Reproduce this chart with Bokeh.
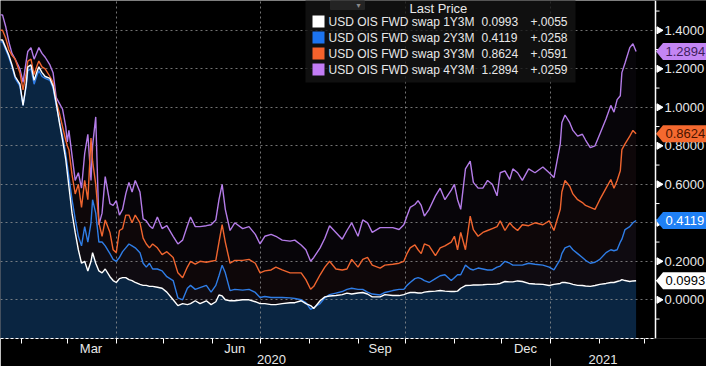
import math
import pandas as pd
from bokeh.plotting import figure
from bokeh.models import (Range1d, FixedTicker, DatetimeTickFormatter, DatetimeAxis,
                          Label, BoxAnnotation, Span, ColumnDataSource)
from bokeh.core.properties import value
from bokeh.embed import file_html
from bokeh.resources import INLINE

# ---------------- data ----------------
dates = [
    "2020-01-15", "2020-01-18", "2020-01-20", "2020-01-22", "2020-01-24", "2020-01-26", "2020-01-28",
    "2020-01-31", "2020-02-02", "2020-02-04", "2020-02-05", "2020-02-07", "2020-02-09", "2020-02-11",
    "2020-02-12", "2020-02-14", "2020-02-16", "2020-02-19", "2020-02-21", "2020-02-23", "2020-02-25",
    "2020-02-27", "2020-02-29", "2020-03-01", "2020-03-02", "2020-03-04", "2020-03-06", "2020-03-08",
    "2020-03-10", "2020-03-12", "2020-03-14", "2020-03-16", "2020-03-17", "2020-03-19", "2020-03-21",
    "2020-03-23", "2020-03-25", "2020-03-28", "2020-03-30", "2020-04-01", "2020-04-03", "2020-04-05",
    "2020-04-07", "2020-04-09", "2020-04-11", "2020-04-13", "2020-04-16", "2020-04-18", "2020-04-20",
    "2020-04-22", "2020-04-24", "2020-04-27", "2020-04-30", "2020-05-03", "2020-05-07", "2020-05-10",
    "2020-05-13", "2020-05-16", "2020-05-18", "2020-05-21", "2020-05-24", "2020-05-28", "2020-05-31",
    "2020-06-03", "2020-06-05", "2020-06-07", "2020-06-09", "2020-06-12", "2020-06-15", "2020-06-20",
    "2020-06-24", "2020-06-28", "2020-07-01", "2020-07-04", "2020-07-08", "2020-07-11", "2020-07-15",
    "2020-07-20", "2020-07-23", "2020-07-27", "2020-07-30", "2020-08-02", "2020-08-04", "2020-08-08",
    "2020-08-11", "2020-08-14", "2020-08-18", "2020-08-22", "2020-08-25", "2020-08-28", "2020-09-01",
    "2020-09-04", "2020-09-07", "2020-09-10", "2020-09-15", "2020-09-18", "2020-09-23", "2020-09-27",
    "2020-09-30", "2020-10-02", "2020-10-04", "2020-10-07", "2020-10-09", "2020-10-11", "2020-10-13",
    "2020-10-16", "2020-10-20", "2020-10-23", "2020-10-26", "2020-10-30", "2020-11-01", "2020-11-03",
    "2020-11-05", "2020-11-08", "2020-11-11", "2020-11-13", "2020-11-16", "2020-11-19", "2020-11-22",
    "2020-11-25", "2020-11-28", "2020-11-30", "2020-12-03", "2020-12-06", "2020-12-08", "2020-12-11",
    "2020-12-14", "2020-12-18", "2020-12-22", "2020-12-27", "2020-12-31", "2021-01-03", "2021-01-07",
    "2021-01-08", "2021-01-10", "2021-01-13", "2021-01-15", "2021-01-18", "2021-01-21", "2021-01-23",
    "2021-01-26", "2021-01-29", "2021-02-01", "2021-02-05", "2021-02-08", "2021-02-10", "2021-02-12",
    "2021-02-14", "2021-02-15", "2021-02-17", "2021-02-20", "2021-02-22", "2021-02-24",
]

swap_1y3m = [
    1.34, 1.35, 1.35, 1.31, 1.27, 1.22, 1.16, 1.12, 1.01, 1.12, 1.21, 1.22, 1.14, 1.19, 1.21, 1.18,
    1.16, 1.15, 1.11, 1.02, 0.92, 0.83, 0.73, 0.66, 0.59, 0.45, 0.35, 0.26, 0.19, 0.20, 0.15, 0.20,
    0.245, 0.19, 0.15, 0.14, 0.16, 0.12, 0.10, 0.09, 0.11, 0.115, 0.115, 0.105, 0.10, 0.09, 0.08,
    0.075, 0.075, 0.07, 0.07, 0.065, 0.06, 0.04, 0.0, -0.03, -0.02, -0.025, -0.02, -0.005, -0.02,
    -0.005, -0.025, -0.01, 0.025, 0.02, 0.0, -0.005, -0.005, 0.0, 0.0, -0.01, -0.02, -0.02, -0.025,
    -0.025, -0.02, -0.015, -0.015, -0.005, -0.02, -0.03, -0.045, -0.005, 0.015, 0.02, 0.022, 0.027,
    0.035, 0.03, 0.035, 0.038, 0.03, 0.015, 0.015, 0.027, 0.022, 0.022, 0.027, 0.033, 0.038, 0.038,
    0.035, 0.035, 0.04, 0.043, 0.045, 0.048, 0.045, 0.043, 0.043, 0.045, 0.06, 0.074, 0.075, 0.077,
    0.077, 0.078, 0.08, 0.08, 0.082, 0.085, 0.095, 0.093, 0.093, 0.098, 0.095, 0.085, 0.082, 0.08,
    0.074, 0.08, 0.085, 0.09, 0.09, 0.085, 0.08, 0.075, 0.074, 0.072, 0.07, 0.074, 0.08, 0.085, 0.09,
    0.09, 0.095, 0.10, 0.105, 0.10, 0.095, 0.098, 0.0993,
]

swap_2y3m = [
    1.33, 1.34, 1.34, 1.30, 1.26, 1.21, 1.15, 1.11, 1.01, 1.11, 1.19, 1.20, 1.12, 1.17, 1.19, 1.16,
    1.15, 1.14, 1.10, 1.01, 0.93, 0.85, 0.76, 0.70, 0.64, 0.52, 0.42, 0.33, 0.28, 0.38, 0.30, 0.40,
    0.52, 0.45, 0.30, 0.30, 0.28, 0.24, 0.21, 0.20, 0.22, 0.25, 0.27, 0.29, 0.28, 0.27, 0.245, 0.19,
    0.17, 0.19, 0.16, 0.16, 0.15, 0.12, 0.10, 0.01, 0.0, 0.06, 0.075, 0.054, 0.063, 0.075, 0.04,
    0.075, 0.125, 0.18, 0.14, 0.048, 0.054, 0.05, 0.054, 0.038, 0.012, 0.017, 0.012, 0.012, 0.012,
    0.01, 0.007, 0.0, -0.015, -0.05, -0.04, -0.02, 0.01, 0.027, 0.035, 0.043, 0.054, 0.06, 0.054,
    0.054, 0.04, 0.03, 0.025, 0.038, 0.048, 0.054, 0.054, 0.075, 0.09, 0.11, 0.115, 0.11, 0.10, 0.09,
    0.11, 0.125, 0.13, 0.10, 0.115, 0.13, 0.13, 0.18, 0.16, 0.155, 0.165, 0.16, 0.155, 0.155, 0.17,
    0.175, 0.20, 0.19, 0.18, 0.18, 0.18, 0.19, 0.185, 0.18, 0.17, 0.155, 0.21, 0.24, 0.27, 0.28, 0.26,
    0.24, 0.22, 0.205, 0.19, 0.195, 0.21, 0.245, 0.26, 0.255, 0.26, 0.30, 0.315, 0.365, 0.38, 0.40,
    0.4119,
]

swap_3y3m = [
    1.39, 1.40, 1.40, 1.36, 1.30, 1.27, 1.25, 1.18, 1.09, 1.18, 1.24, 1.25, 1.17, 1.22, 1.24, 1.21,
    1.20, 1.16, 1.13, 1.03, 0.97, 0.90, 0.83, 0.80, 0.78, 0.65, 0.55, 0.60, 0.48, 0.62, 0.52, 0.84,
    0.72, 0.60, 0.40, 0.33, 0.415, 0.35, 0.26, 0.245, 0.36, 0.37, 0.44, 0.44, 0.40, 0.44, 0.40, 0.32,
    0.29, 0.27, 0.29, 0.27, 0.235, 0.25, 0.22, 0.14, 0.115, 0.17, 0.20, 0.185, 0.20, 0.195, 0.20,
    0.205, 0.30, 0.39, 0.30, 0.19, 0.205, 0.205, 0.21, 0.19, 0.14, 0.15, 0.155, 0.17, 0.155, 0.14,
    0.14, 0.14, 0.105, 0.055, 0.07, 0.13, 0.17, 0.20, 0.16, 0.155, 0.16, 0.21, 0.17, 0.21, 0.22, 0.18,
    0.165, 0.18, 0.185, 0.19, 0.20, 0.24, 0.27, 0.285, 0.26, 0.24, 0.29, 0.28, 0.23, 0.27, 0.28, 0.30,
    0.33, 0.26, 0.35, 0.26, 0.435, 0.365, 0.33, 0.35, 0.36, 0.37, 0.38, 0.41, 0.36, 0.40, 0.38, 0.36,
    0.39, 0.385, 0.40, 0.39, 0.41, 0.36, 0.47, 0.56, 0.62, 0.59, 0.55, 0.52, 0.505, 0.49, 0.48, 0.47,
    0.52, 0.58, 0.625, 0.58, 0.62, 0.67, 0.78, 0.81, 0.85, 0.88, 0.8624,
]

swap_4y3m = [
    1.45, 1.48, 1.48, 1.42, 1.34, 1.28, 1.25, 1.20, 1.13, 1.24, 1.29, 1.31, 1.25, 1.29, 1.31, 1.28,
    1.26, 1.22, 1.18, 1.05, 1.02, 0.99, 0.90, 0.82, 0.88, 0.75, 0.62, 0.66, 0.58, 0.76, 0.86, 0.62,
    0.80, 0.95, 0.39, 0.45, 0.64, 0.50, 0.49, 0.515, 0.44, 0.47, 0.55, 0.61, 0.56, 0.62, 0.56, 0.42,
    0.41, 0.385, 0.37, 0.43, 0.37, 0.385, 0.33, 0.29, 0.31, 0.385, 0.43, 0.38, 0.38, 0.385, 0.39,
    0.415, 0.52, 0.60, 0.47, 0.36, 0.40, 0.37, 0.38, 0.34, 0.29, 0.33, 0.34, 0.33, 0.31, 0.305, 0.31,
    0.285, 0.26, 0.20, 0.22, 0.27, 0.32, 0.385, 0.35, 0.315, 0.36, 0.40, 0.33, 0.415, 0.40, 0.35,
    0.375, 0.375, 0.375, 0.365, 0.39, 0.435, 0.48, 0.495, 0.515, 0.49, 0.435, 0.47, 0.54, 0.58, 0.52,
    0.57, 0.60, 0.52, 0.47, 0.68, 0.72, 0.61, 0.58, 0.58, 0.62, 0.60, 0.54, 0.66, 0.67, 0.625, 0.68,
    0.66, 0.62, 0.68, 0.66, 0.69, 0.66, 0.635, 0.81, 0.92, 0.96, 0.92, 0.88, 0.85, 0.86, 0.83, 0.79,
    0.80, 0.86, 0.94, 1.01, 0.975, 1.04, 1.06, 1.18, 1.23, 1.31, 1.33, 1.2894,
]

series_names = ["USD OIS FWD swap 1Y3M", "USD OIS FWD swap 2Y3M",
                "USD OIS FWD swap 3Y3M", "USD OIS FWD swap 4Y3M"]
last_prices = ["0.0993", "0.4119", "0.8624", "1.2894"]
net_changes = ["+.0055", "+.0258", "+.0591", "+.0259"]

y_ticks = [0.0, 0.2, 0.4, 0.6, 0.8, 1.0, 1.2, 1.4, 1.6]
y_minor_ticks = [-0.1, 0.1, 0.3, 0.5, 0.7, 0.9, 1.1, 1.3, 1.5]
month_label_dates = ["2020-03-16", "2020-06-15", "2020-09-15", "2020-12-16"]
month_start_dates = ["2020-02-01", "2020-03-01", "2020-04-01", "2020-05-01", "2020-06-01",
                     "2020-07-01", "2020-08-01", "2020-09-01", "2020-10-01", "2020-11-01",
                     "2020-12-01", "2021-01-01", "2021-02-01", "2021-03-01"]
quarter_grid_dates = ["2020-04-01", "2020-07-01", "2020-10-01", "2021-01-01"]
year_break_date = "2021-01-01"

# ---------------- layout helpers (page pixel -> data) ----------------
def ms(s):
    return (pd.Timestamp(s) - pd.Timestamp("1970-01-01")).total_seconds() * 1000.0


PX_PER_DAY = 1.58
ORIGIN_MS = ms("2020-01-01")
ORIGIN_PX = -20.0
Y0_PX = 307.3
PX_PER_UNIT = 192.5
AXIS_PX = 663          # page x of the value axis line
FRAME_BOTTOM_PX = 346  # page y of the frame bottom


def xd(px):
    return ORIGIN_MS + (px - ORIGIN_PX) / PX_PER_DAY * 86400000.0


def yd(py):
    return (Y0_PX - py) / PX_PER_UNIT


FONT = "Liberation Sans"
LABEL_GREY = "#e8e8e8"
WHITE = "#ffffff"
BLUE = "#2f7de6"
ORANGE = "#f0652f"
PURPLE = "#b47ce8"
legend_colors = ["#ffffff", "#1c74f0", "#f4622c", "#c27cf5"]
tag_fill = ["#ffffff", "#1f80f5", "#f5692f", "#c385f4"]
tag_text = ["#000000", "#ffffff", "#4a1400", "#3e1d5c"]

p = figure(width=706, height=366, x_axis_type="datetime", y_axis_location=None,
           x_range=Range1d(xd(8), xd(714)), y_range=Range1d(yd(FRAME_BOTTOM_PX), yd(8)),
           output_backend="svg", toolbar_location=None,
           min_border_left=0, min_border_top=0, min_border_right=0, min_border_bottom=28,
           background_fill_color="black", border_fill_color="black", outline_line_color=None)

base = p.y_range.start - 0.05
src = ColumnDataSource(dict(
    date=pd.to_datetime(dates),
    s1=swap_1y3m, s2=swap_2y3m, s3=swap_3y3m, s4=swap_4y3m,
    base=[base] * len(dates),
))

# faint area fills under the upper curves, navy area under 1Y3M
for col, c, a in [("s4", PURPLE, 0.04), ("s3", ORANGE, 0.03), ("s2", BLUE, 0.04)]:
    p.varea(x="date", y1="base", y2=col, source=src, fill_color=c, fill_alpha=a, level="image")
p.varea(x="date", y1="base", y2="s1", source=src, fill_color="#0a2541", fill_alpha=1.0,
        level="image")

# grids
p.xgrid[0].ticker = FixedTicker(ticks=[ms(d) for d in quarter_grid_dates])
p.ygrid[0].ticker = FixedTicker(ticks=list(y_ticks))
for g in (p.xgrid[0], p.ygrid[0]):
    g.grid_line_color = "#9a9a9a"
    g.grid_line_dash = "2 3"
    g.grid_line_alpha = 0.75
    g.grid_line_width = 1

# value-axis area on the right side of the frame (covers the grid there)
p.quad(left=xd(AXIS_PX), right=xd(730), bottom=base, top=p.y_range.end + 0.1,
       fill_color="black", line_alpha=0)

# lines (4Y3M at the back, 1Y3M on top)
for col, c in [("s4", PURPLE), ("s3", ORANGE), ("s2", BLUE), ("s1", WHITE)]:
    p.line(x="date", y=col, source=src, line_color=c, line_width=1.4)

# ---- right value axis: line, minor ticks, triangle major ticks, labels ----
p.add_layout(Span(location=xd(AXIS_PX), dimension="height", line_color="white", line_width=1.5))
vis_major = [t for t in y_ticks if p.y_range.start <= t <= p.y_range.end]
vis_minor = [t for t in y_minor_ticks if p.y_range.start <= t <= p.y_range.end]
p.segment(x0=[xd(AXIS_PX)] * len(vis_minor), x1=[xd(AXIS_PX + 4)] * len(vis_minor),
          y0=vis_minor, y1=vis_minor, line_color="white", line_width=1)
p.scatter(x=[xd(AXIS_PX + 3.5)] * len(vis_major), y=vis_major, marker="triangle", size=7,
          angle=-math.pi / 2, fill_color="white", line_color="white")
p.text(x=[xd(AXIS_PX + 9)] * len(vis_major), y=vis_major,
       text=["%.4f" % t for t in vis_major], text_color=LABEL_GREY,
       text_font=value(FONT), text_font_size="13px", text_baseline="middle", text_align="left")

# last-price tags
th = 8.5 / PX_PER_UNIT
for series, txt, fc, tc in zip([swap_1y3m, swap_2y3m, swap_3y3m, swap_4y3m],
                               last_prices, tag_fill, tag_text):
    c = series[-1]
    p.patch(x=[xd(AXIS_PX + 0.5), xd(AXIS_PX + 7.5), xd(730), xd(730), xd(AXIS_PX + 7.5)],
            y=[c, c + th, c + th, c - th, c - th], fill_color=fc, line_alpha=0)
    p.text(x=[xd(AXIS_PX + 10)], y=[c], text=[txt], text_color=tc, text_font=value(FONT),
           text_font_size="13px", text_baseline="middle", text_align="left")

# ---- bottom axes: months, then years ----
xa = p.xaxis[0]
xa.bounds = (xd(8), xd(AXIS_PX))
xa.ticker = FixedTicker(ticks=[ms(d) for d in month_label_dates],
                        minor_ticks=[ms(d) for d in month_start_dates])
xa.formatter = DatetimeTickFormatter(months="%b", days="%b", years="%b", hours="%b")
xa.major_tick_out = 0
xa.major_tick_in = 0
xa.minor_tick_out = 5
xa.minor_tick_in = 0
xa.minor_tick_line_color = "white"
xa.axis_line_color = "white"
xa.axis_line_dash = "3 2"
xa.major_label_standoff = -3
xa.major_label_text_color = LABEL_GREY
xa.major_label_text_font = FONT
xa.major_label_text_font_size = "13px"

year_axis = DatetimeAxis(
    ticker=FixedTicker(ticks=[xd(279), xd(610.5)], minor_ticks=[ms(year_break_date)]),
    formatter=DatetimeTickFormatter(months="%Y", days="%Y", years="%Y", hours="%Y"),
    axis_line_alpha=0, major_tick_out=0, major_tick_in=0,
    minor_tick_out=11, minor_tick_in=0, minor_tick_line_color="#b0b0b0",
    major_label_standoff=-15, major_label_text_color=LABEL_GREY,
    major_label_text_font=FONT, major_label_text_font_size="13px")
p.add_layout(year_axis, "below")

# ---- legend panel ----
p.add_layout(BoxAnnotation(left=xd(313), right=xd(583), top=yd(0), bottom=yd(90),
                           fill_color="#141414", fill_alpha=0.78, line_alpha=0))
p.add_layout(BoxAnnotation(left=xd(338), right=xd(372), top=yd(0), bottom=yd(17),
                           fill_color="#242424", fill_alpha=1, line_color="#3a3a3a",
                           line_width=1))
p.add_layout(Label(x=xd(366), y=yd(13), text="▾", text_color="#8a8a8a",
                   text_font="DejaVu Sans", text_font_size="8px", text_align="center",
                   text_baseline="middle"))
p.add_layout(Label(x=xd(417), y=yd(16), text="Last Price", text_color=LABEL_GREY,
                   text_font=FONT, text_font_size="13px", text_baseline="middle"))
row_y = [29, 45, 61, 77]
for ry, name, lp, ch, lc in zip(row_y, series_names, last_prices, net_changes, legend_colors):
    p.add_layout(BoxAnnotation(left=xd(320), right=xd(332), top=yd(ry - 6), bottom=yd(ry + 6),
                               fill_color=lc, fill_alpha=1, line_alpha=0))
    for lx, txt in [(336, name), (489, lp), (538, ch)]:
        p.add_layout(Label(x=xd(lx), y=yd(ry), text=txt, text_color=LABEL_GREY, text_font=FONT,
                           text_font_size="12px", text_baseline="middle", text_align="left"))

open("out.html", "w").write(file_html(p, INLINE))
